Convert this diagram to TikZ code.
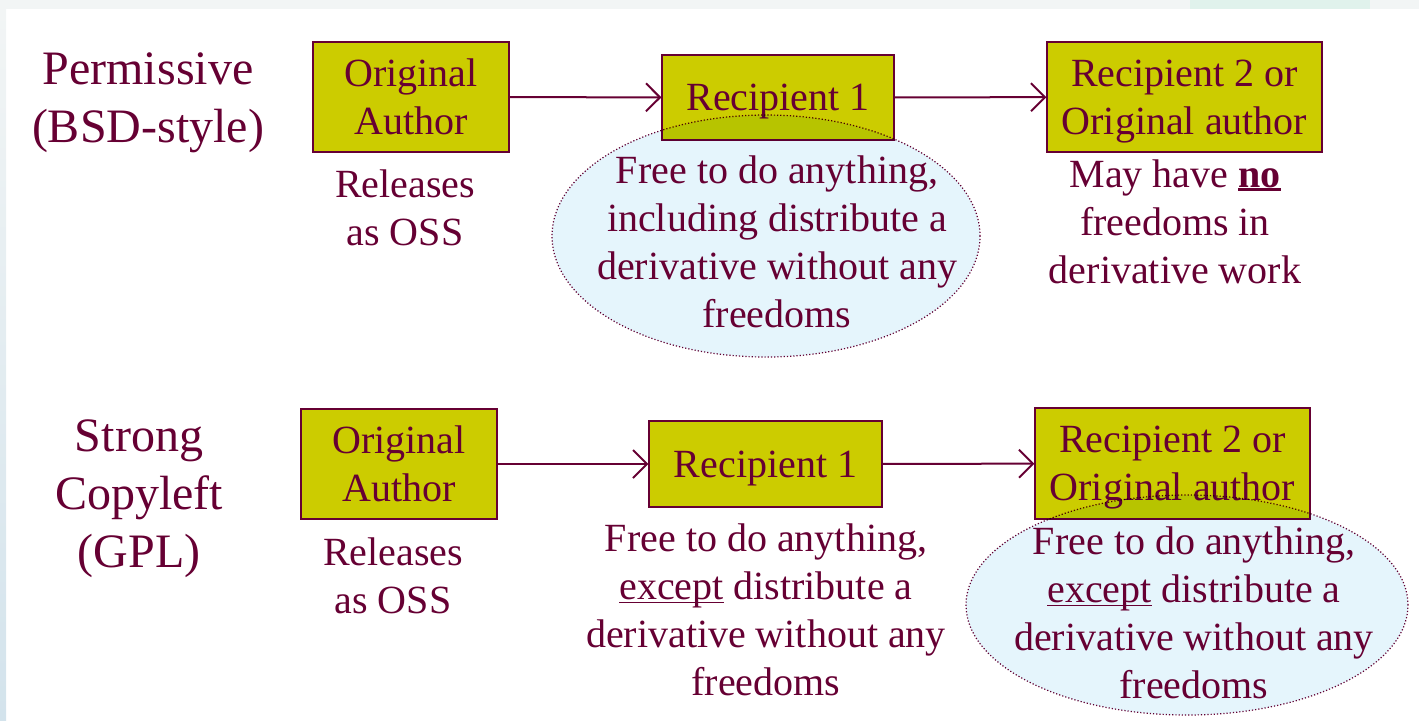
\documentclass[tikz,border=0pt]{standalone}
\usepackage{fontspec}
\setmainfont{Liberation Serif}
\usetikzlibrary{shapes}
\usetikzlibrary{arrows.meta}

\definecolor{wine}{RGB}{102,0,51}
\definecolor{mustard}{RGB}{204,204,0}
\definecolor{paleblue}{RGB}{229,245,252}
\definecolor{stripgray}{RGB}{242,245,245}
\definecolor{stripgreen}{RGB}{224,242,236}
\definecolor{stripblue}{RGB}{211,227,236}

\newcommand{\thickul}[2]{\leavevmode\setbox0\hbox{#2}\rlap{\rule[-2.2pt]{\wd0}{#1}}\box0\relax}

\begin{document}
\begin{tikzpicture}[x=0.5pt, y=-0.5pt]

\tikzstyle{party}=[rectangle, draw=wine, line width=0.6pt, fill=mustard, text=wine, font=\fontsize{20}{24}\selectfont, align=center, inner sep=0pt, text depth=0pt]
\tikzstyle{note}=[text=wine, font=\fontsize{20}{24}\selectfont, align=center, inner sep=0pt, anchor=base]
\tikzstyle{kind}=[text=wine, font=\fontsize{24}{29}\selectfont, align=center, inner sep=0pt, anchor=base]
\tikzstyle{oval}=[ellipse, fill=paleblue, draw=wine, densely dotted, line width=0.6pt, inner sep=0pt]

\tikzstyle{connect}=[-{Straight Barb[length=7pt, width=14pt]}, line width=1pt, draw=wine]

\useasboundingbox (0,0) rectangle (1419,720);

% slide background
\fill[stripgray] (0,0) rectangle (1419,9);
\fill[stripgreen] (1190,0) rectangle (1370,9);
\fill[top color=stripgray, bottom color=stripblue] (0,9) rectangle (6,720);


\node[kind] (perm) at (148,142) {Permissive\\(BSD-style)};
\node[party, minimum width=98pt, minimum height=55pt] (orig1) at (411,97) {Original\\Author};
\node[party, minimum width=116pt, minimum height=42.5pt] (rec1) at (778,97.5) {Recipient 1};
\node[party, minimum width=137.5pt, minimum height=55pt] (rec2) at (1184.5,97) {Recipient 2 or\\Original author};

\node[kind] (copy) at (139,567) {Strong\\Copyleft\\(GPL)};
\node[party, minimum width=98pt, minimum height=55pt] (orig3) at (399,464) {Original\\Author};
\node[party, minimum width=116.5pt, minimum height=43pt] (rec3) at (765.5,464) {Recipient 1};
\node[party, minimum width=137.5pt, minimum height=55.5pt] (rec4) at (1172.5,463.5) {Recipient 2 or\\Original author};


\path (orig1) [connect] edge (rec1);
\path (rec1) [connect] edge (rec2);
\path (orig3) [connect] edge (rec3);
\path (rec3) [connect] edge (rec4);


\begin{scope}[blend mode=multiply]
\node[oval, minimum width=214pt, minimum height=121pt] (oval1) at (766,236) {};
\node[oval, minimum width=221pt, minimum height=110pt] (oval4) at (1187,605) {};
\end{scope}


\node[note] (rel1) at (405,245) {Releases\\as OSS};
\node[note] (free1) at (777,327) {Free to do anything,\\including distribute a\\derivative without any\\freedoms};
\node[note] (may2) at (1175,283) {May have \thickul{1.5pt}{\textbf{no}}\\freedoms in\\derivative work};

\node[note] (rel3) at (393,613) {Releases\\as OSS};
\node[note] (free3) at (766,695) {Free to do anything,\\\thickul{0.9pt}{except} distribute a\\derivative without any\\freedoms};
\node[note] (free4) at (1194,698) {Free to do anything,\\\thickul{0.9pt}{except} distribute a\\derivative without any\\freedoms};

\end{tikzpicture}
\end{document}
